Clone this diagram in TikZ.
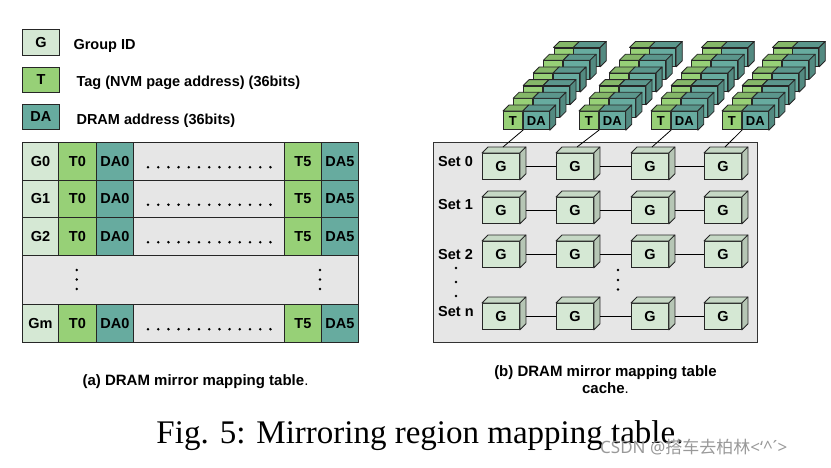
\documentclass[tikz,border=0pt]{standalone}
\usepackage{fontspec}
\setmainfont{Liberation Sans}
\newfontfamily\figfont{Liberation Serif}
\newfontfamily\cjkfont{Noto Sans CJK SC}
\newfontfamily\wmfont{Noto Sans}
\usetikzlibrary{calc}

\definecolor{gcol}{HTML}{D5E8D4}
\definecolor{tcol}{HTML}{97D077}
\definecolor{dacol}{HTML}{67AB9F}
\definecolor{bgcol}{HTML}{E6E6E6}

% top and side face of a box whose front face is the node #1
\newcommand{\cubefaces}[2]{%
  \filldraw[fill=#2, facet] (#1.north west) -- ++(6,-6) -- ($(#1.north east)+(6,-6)$) -- (#1.north east) -- cycle;
  \filldraw[fill=#2!92!black, facet] (#1.north east) -- ++(6,-6) -- ($(#1.south east)+(6,-6)$) -- (#1.south east) -- cycle;
}

\begin{document}
\begin{tikzpicture}[x=1pt, y=-1pt,
  facet/.style={draw=black!85, line width=0.8pt, line join=round},
  cell/.style={draw=black!85, line width=0.9pt, inner sep=0pt, anchor=north west,
    font=\fontsize{14.5}{17}\selectfont\bfseries},
  legendtext/.style={anchor=base west, font=\fontsize{14.5}{17}\selectfont\bfseries},
  gcube/.style={cell, fill=gcol, minimum width=37, minimum height=26},
  tbox/.style={cell, fill=tcol, minimum width=19, minimum height=18.3, font=\fontsize{13}{15}\selectfont\bfseries},
  dabox/.style={cell, fill=dacol, minimum width=26, minimum height=18.3, font=\fontsize{13}{15}\selectfont\bfseries},
  setlabel/.style={anchor=west, inner sep=0pt, font=\fontsize{14.5}{17}\selectfont\bfseries},
  caption/.style={anchor=base, font=\fontsize{15}{17}\selectfont\bfseries},
  dot/.style={fill=black}]
  \useasboundingbox (0,0) rectangle (831,467);

  % Legend.
  \node[cell, fill=gcol, minimum width=37, minimum height=26] (lg) at (22,29) {G};
  \node[legendtext] (lgtext) at (70,49.3) {Group ID};
  \node[cell, fill=tcol, minimum width=37, minimum height=25] (lt) at (22,66.5) {T};
  \node[legendtext] (lttext) at (73,86.5) {Tag (NVM page address) (36bits)};
  \node[cell, fill=dacol, minimum width=37, minimum height=25] (lda) at (22,104) {DA};
  \node[legendtext] (ldatext) at (73,124) {DRAM address (36bits)};

  % Mapping table rows.
  \foreach \r/\y/\g in {0/142/G0, 1/179.5/G1, 2/217/G2, 4/304/Gm} {
    \node[cell, fill=gcol, minimum width=36, minimum height=37.5] (g\r) at (22,\y) {\g};
    \node[cell, fill=tcol, minimum width=38, minimum height=37.5] (ta\r) at (58,\y) {T0};
    \node[cell, fill=dacol, minimum width=37, minimum height=37.5] (da\r) at (96,\y) {DA0};
    \node[cell, fill=bgcol, minimum width=151, minimum height=37.5] (m\r) at (133,\y) {};
    \node[cell, fill=tcol, minimum width=37, minimum height=37.5] (tb\r) at (284,\y) {T5};
    \node[cell, fill=dacol, minimum width=37, minimum height=37.5] (db\r) at (321,\y) {DA5};
    % Dots in the middle cell.
    \foreach \k in {0,...,12}
      \fill[dot] ($(m\r.west)+(15+10.2*\k,6)$) circle[radius=1.4pt];
  }
  % Gap row.
  \node[cell, fill=bgcol, minimum width=336, minimum height=49.5] (gap) at (22,254.5) {};
  \foreach \yy in {270,279.5,289} {
    \fill[dot] (76.7,\yy) circle[radius=1.4pt];
    \fill[dot] (320,\yy) circle[radius=1.4pt];
  }

  % Cache frame.
  \node[draw=black!80, line width=1pt, fill=bgcol, inner sep=0pt, anchor=north west,
    minimum width=324, minimum height=200] (cache) at (433,142) {};

  % Tag stacks, back layers first (only the front layer shows its labels).
  \foreach \k in {5,...,0} {
    \foreach \i/\sx in {0/503,1/579,2/651,3/722} {
      \ifnum\k=0 \def\tl{T}\def\dl{DA}\else \def\tl{}\def\dl{}\fi
      \node[tbox] (t\i\k) at ({\sx+10.1*\k},{111-12.7*\k}) {\tl};
      \cubefaces{t\i\k}{tcol!88!black}
      \node[dabox] (d\i\k) at (t\i\k.north east) {\dl};
      \cubefaces{d\i\k}{dacol!88!black}
    }
  }

  % Sets of group boxes.
  \foreach \r/\y/\ly/\s in {0/153/161.7/0, 1/197/205/1, 2/241/255/2, 3/303/311.7/n} {
    \node[setlabel] (s\r) at (438,\ly) {Set \s};
    \foreach \c/\x in {0/482,1/556,2/631,3/704} {
      \node[gcube] (c\r\c) at (\x,\y) {G};
      \cubefaces{c\r\c}{gcol!93!black}
    }
    \foreach \c/\n in {0/1,1/2,2/3}
      \draw[line width=0.8pt] ($(c\r\c.east)+(6,0)$) -- (c\r\n.west);
  }
  % Links from Set 0 to the tag stacks.
  \foreach \c in {0,...,3}
    \draw[line width=0.8pt] ($(c0\c.north west)+(21,-6)$) -- (t\c0.south east);

  % Vertical dots between sets.
  \foreach \yy in {268,282,296}
    \fill[dot] (456,\yy) circle[radius=1.4pt];
  \foreach \yy in {270,280,289.5}
    \fill[dot] (618,\yy) circle[radius=1.4pt];

  % Captions.
  \node[caption] (capa) at (195.5,385) {(a) DRAM mirror mapping table{\mdseries .}};
  \node[caption] (capb) at (605.5,376) {(b) DRAM mirror mapping table};
  \node[caption] (capb2) at (605.5,393) {cache{\mdseries .}};
  \node[anchor=base, font=\figfont\fontsize{33}{38}\selectfont] (fig) at (420,443) {Fig. 5: Mirroring region mapping table.};
  \node[anchor=west, inner sep=0pt, text=black!40, font=\wmfont\fontsize{17}{20}\selectfont] (wm) at (600,447)
    {CSDN @{\cjkfont 搭车去柏林}<‘\textasciicircum´>};
\end{tikzpicture}
\end{document}
